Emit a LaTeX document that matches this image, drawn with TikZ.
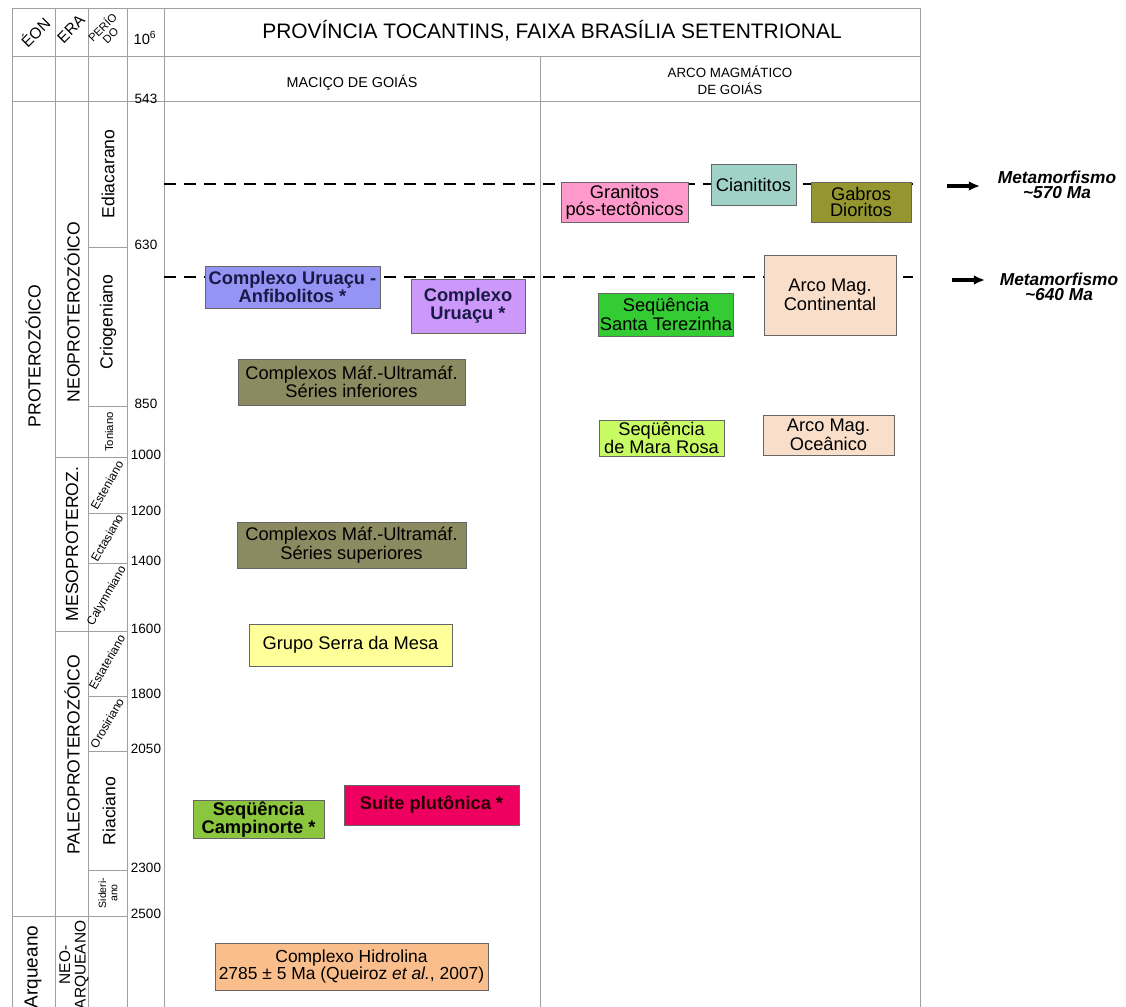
\documentclass[tikz,border=0pt]{standalone}
\usepackage{fontspec}
\setmainfont{Liberation Sans}
\usetikzlibrary{arrows.meta}
\definecolor{anfib}{RGB}{148,148,244}
\definecolor{lilas}{RGB}{204,153,250}
\definecolor{mafico}{RGB}{140,138,96}
\definecolor{amarelo}{RGB}{255,255,153}
\definecolor{campi}{RGB}{140,198,62}
\definecolor{pluto}{RGB}{238,0,96}
\definecolor{hidro}{RGB}{250,190,140}
\definecolor{granito}{RGB}{255,153,204}
\definecolor{ciani}{RGB}{160,210,200}
\definecolor{gabro}{RGB}{150,150,48}
\definecolor{arco}{RGB}{249,222,201}
\definecolor{santa}{RGB}{51,204,51}
\definecolor{mara}{RGB}{200,250,100}
\definecolor{azulesc}{RGB}{25,25,70}
\begin{document}
\begin{tikzpicture}[x=0.025cm, y=-0.025cm, >={Latex[length=8pt,width=7pt]},
    grade/.style={gray!75, line width=0.7pt},
    numero/.style={font=\fontsize{9.6}{10}\selectfont, inner sep=0pt},
    rotulo/.style={rotate=90, font=\fontsize{12.5}{12}\selectfont, inner sep=0pt},
    miudo/.style={rotate=60, font=\fontsize{8.5}{9}\selectfont, inner sep=0pt},
    caixa/.style 2 args={draw=gray!80!black, line width=0.6pt, inner sep=1pt,
        minimum width=#1*0.025cm, minimum height=#2*0.025cm, align=center,
        font=\fontsize{13}{12}\selectfont},
    negrito/.style={font=\fontsize{13}{11.5}\selectfont\bfseries},
    corte/.style={line width=1.5pt, dash pattern=on 8.5pt off 5.7pt}]
    \useasboundingbox (0,0) rectangle (1126,1007);

    % 1. Grade da tabela
    \draw[grade] (12,8) rectangle (920,1020);
    \draw[grade] (12,56) -- (920,56);
    \draw[grade] (12,101) -- (920,101);
    \foreach \x in {55,88,127,164}
        \draw[grade] (\x,8) -- (\x,1020);
    \draw[grade] (540,56) -- (540,1020);

    % limites de eras e éons
    \foreach \y in {457,631}
        \draw[grade] (55,\y) -- (127,\y);
    \draw[grade] (12,916) -- (127,916);

    % limites de períodos
    \foreach \y in {247,406,513,563,696,751,870}
        \draw[grade] (88,\y) -- (127,\y);

    % 2. Cabeçalho
    \node[rotate=45, font=\fontsize{11}{11}\selectfont] (eon) at (35,32) {ÉON};
    \node[rotate=45, font=\fontsize{11}{11}\selectfont] (era) at (71,29) {ERA};
    \node[rotate=45, align=center, font=\fontsize{8}{8}\selectfont] (periodo) at (106,31) {PERÍO\\DO};
    \node[font=\fontsize{10.5}{10}\selectfont] (milhoes) at (145,38) {10\textsuperscript{6}};
    \node[font=\fontsize{14.9}{16}\selectfont] (titulo) at (552,31) {PROVÍNCIA TOCANTINS, FAIXA BRASÍLIA SETENTRIONAL};
    \node[font=\fontsize{10.2}{12}\selectfont] (macico) at (352,83) {MACIÇO DE GOIÁS};
    \node[align=center, font=\fontsize{9.5}{12}\selectfont] (arcomag) at (730,80) {ARCO MAGMÁTICO\\DE GOIÁS};

    % 3. Idades (Ma)
    \foreach \y/\ma in {101/543,247/630,406/850,457/1000,513/1200,563/1400,631/1600,696/1800,751/2050,870/2300,916/2500}
        \node[numero] (n\ma) at (146,\y-2) {\ma};

    % 4. Éons, eras e períodos
    \node[rotulo] (proterozoico) at (33,356) {PROTEROZÓICO};
    \node[rotulo, font=\fontsize{13.5}{13}\selectfont] (arqueano) at (33,967) {Arqueano};
    \node[rotulo] (neo) at (72,312) {NEOPROTEROZÓICO};
    \node[rotulo] (meso) at (72,544) {MESOPROTEROZ.};
    \node[rotulo] (paleo) at (72,755) {PALEOPROTEROZÓICO};
    \node[rotulo, align=center, font=\fontsize{11}{11}\selectfont] (neoarq) at (74,965) {NEO-\\ARQUEANO};
    \node[rotulo] (ediacarano) at (108,174) {Ediacarano};
    \node[rotulo] (criogeniano) at (108,322) {Criogeniano};
    \node[rotulo, font=\fontsize{8}{8}\selectfont] (toniano) at (109,432) {Toniano};
    \node[miudo] (esteniano) at (107,485) {Esteniano};
    \node[miudo] (ectasiano) at (107,538) {Ectasiano};
    \node[miudo] (calymmiano) at (107,596) {Calymmiano};
    \node[miudo] (estateriano) at (107,662) {Estateriano};
    \node[miudo] (orosiriano) at (107,723) {Orosiriano};
    \node[rotulo] (riaciano) at (109,811) {Riaciano};
    \node[rotulo, align=center, font=\fontsize{7.5}{8}\selectfont] (sideriano) at (108,893) {Sideri-\\ano};

    % 5. Linhas de metamorfismo (tracejadas)
    \draw[corte] (164,184) -- (913,184);
    \draw[corte] (164,277) -- (913,277);

    % 6. Unidades do Maciço de Goiás
    \node[caixa={175}{42}, fill=anfib, negrito, text=azulesc] (anfibolitos) at (292.5,287) {Complexo Uruaçu -\\Anfibolitos *};
    \node[caixa={114}{54}, fill=lilas, negrito, text=azulesc] (uruacu) at (468,306) {Complexo\\Uruaçu *};
    \node[caixa={227}{46}, fill=mafico] (mafinf) at (351.5,382) {Complexos Máf.-Ultramáf.\\Séries inferiores};
    \node[caixa={229}{46}, fill=mafico] (mafsup) at (351.5,545) {Complexos Máf.-Ultramáf.\\Séries superiores};
    \node[caixa={203}{42}, fill=amarelo] (serramesa) at (350.5,645) {Grupo Serra da Mesa};
    \node[caixa={131}{37}, fill=campi, negrito] (campinorte) at (258.5,819.5) {Seqüência\\Campinorte *};
    \node[caixa={175}{40}, fill=pluto, negrito, text=black!85!red] (plutonica) at (431.5,805) {Suite plutônica *};
    \node[caixa={273}{47}, fill=hidro, font=\fontsize{12.4}{12.5}\selectfont] (hidrolina) at (351.5,966.5) {Complexo Hidrolina\\2785 ± 5 Ma (Queiroz \textit{et al.}, 2007)};

    % 7. Unidades do Arco Magmático de Goiás
    \node[caixa={127}{40}, fill=granito] (granitos) at (624.5,202) {Granitos\\pós-tectônicos};
    \node[caixa={85}{41}, fill=ciani] (cianititos) at (753.5,184.5) {Cianititos};
    \node[caixa={100}{40}, fill=gabro] (gabros) at (861,202) {Gabros\\Dioritos};
    \node[caixa={132}{80}, fill=arco] (arcocont) at (830,295) {Arco Mag.\\Continental};
    \node[caixa={134}{43}, fill=santa] (santaterezinha) at (666,314.5) {Seqüência\\Santa Terezinha};
    \node[caixa={125}{36}, fill=mara] (mararosa) at (661.5,438) {Seqüência\\de Mara Rosa};
    \node[caixa={131}{40}, fill=arco] (arcoocean) at (828.5,435) {Arco Mag.\\Oceânico};

    % 8. Setas de metamorfismo
    \coordinate (s570) at (947,186);
    \coordinate (e570) at (980,186);
    \coordinate (s640) at (952,280);
    \coordinate (e640) at (985,280);
    \draw[->, line width=2.2pt] (s570) -- (e570);
    \draw[->, line width=2.2pt] (s640) -- (e640);
    \node[align=center, font=\fontsize{12.3}{11}\selectfont\bfseries\itshape] (m570) at (1057,185) {Metamorfismo\\\textasciitilde570 Ma};
    \node[align=center, font=\fontsize{12.3}{11}\selectfont\bfseries\itshape] (m640) at (1059,287) {Metamorfismo\\\textasciitilde640 Ma};
\end{tikzpicture}
\end{document}
